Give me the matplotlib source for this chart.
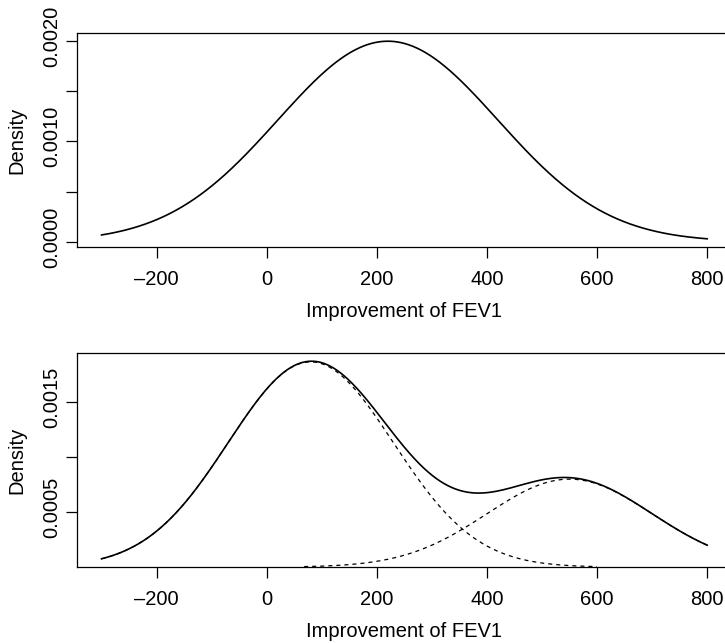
#!/usr/bin/python3
#============================ fev1_density ===========================
#
# Prior densities for the improvement of FEV1: a single normal (top) and
# a two component normal mixture with its weighted components (bottom).
#
#============================ fev1_density ===========================

#==[0] Prep environment
import matplotlib
matplotlib.use("Agg")
import matplotlib.pyplot as plt
import matplotlib.transforms as mtrans
import numpy as np

plt.rcParams['font.family'] = ['Liberation Sans', 'DejaVu Sans']
plt.rcParams['lines.scale_dashes'] = False

#==[1] Chart data.
#
x_range = [-300, 800]

single_mean = 220
single_sd = 200

mix_means = [80, 550]
mix_sds = [150, 150]
mix_weights = [0.7, 0.3]

x_ticks = [-200, 0, 200, 400, 600, 800]
top_yticks = [0.0, 0.0005, 0.0010, 0.0015, 0.0020]
top_ylabels = ["0.0000", "", "0.0010", "", "0.0020"]
bot_yticks = [0.0005, 0.0010, 0.0015]
bot_ylabels = ["0.0005", "", "0.0015"]

x_label = "Improvement of FEV1"
y_label = "Density"


def dnorm(x, m, s):
    return np.exp(-0.5 * ((x - m) / s) ** 2) / (s * np.sqrt(2 * np.pi))


def r_lim(lo, hi):
    # R style 4% axis expansion
    d = 0.04 * (hi - lo)
    return lo - d, hi + d


xs = np.linspace(x_range[0], x_range[1], 1101)
top_y = dnorm(xs, single_mean, single_sd)
comps = [w * dnorm(xs, m, s) for m, s, w in zip(mix_means, mix_sds, mix_weights)]
mix_y = np.sum(comps, axis=0)

#==[2] Figure layout.
#
W, H = 725, 643
fig = plt.figure(figsize=(W / 100, H / 100), dpi=100)
left = 77.3 / W
width = (731.4 - 77.3) / W
ax_h = (246.7 - 33.3) / H
ax_top = fig.add_axes([left, 1 - 246.7 / H, width, ax_h])
ax_bot = fig.add_axes([left, 1 - 566.7 / H, width, ax_h])

# R draws rotated y labels a little above the tick
y_shift = mtrans.ScaledTranslation(0, 0.045, fig.dpi_scale_trans)


def style_axes(ax, yticks, ylabels):
    for sp in ax.spines.values():
        sp.set_linewidth(0.9)
    ax.set_xlim(*r_lim(*x_range))
    ax.set_xticks(x_ticks)
    ax.set_xticklabels([str(t).replace('-', '\u2013') for t in x_ticks])
    ax.set_yticks(yticks)
    ax.set_yticklabels(ylabels, rotation=90, va='center')
    ax.tick_params(axis='both', length=7.9, width=0.9, labelsize=14.5)
    ax.tick_params(axis='x', pad=9)
    ax.tick_params(axis='y', pad=3.5)
    for lab in ax.get_yticklabels():
        lab.set_transform(lab.get_transform() + y_shift)
    ax.set_xlabel(x_label, fontsize=14.5, labelpad=9.4)
    ax.set_ylabel(y_label, fontsize=14.5, labelpad=11.3)


#==[3] Top: single normal prior.
#
ax_top.plot(xs, top_y, color='black', lw=1.2)
ax_top.set_ylim(*r_lim(top_y.min(), top_y.max()))
style_axes(ax_top, top_yticks, top_ylabels)

#==[4] Bottom: mixture prior and its weighted components.
#
ax_bot.plot(xs, mix_y, color='black', lw=1.2)
y_lo, y_hi = r_lim(mix_y.min(), mix_y.max())
for c in comps:
    # the part lying on the box line is hidden in the original
    c_vis = np.where(c < y_lo + 1e-6, np.nan, c)
    ax_bot.plot(xs, c_vis, color='black', lw=0.9, linestyle=(0, (2.9, 2.9)))
ax_bot.set_ylim(y_lo, y_hi)
style_axes(ax_bot, bot_yticks, bot_ylabels)

fig.savefig("out.png", dpi=100)

#
#============================ fev1_density ===========================
